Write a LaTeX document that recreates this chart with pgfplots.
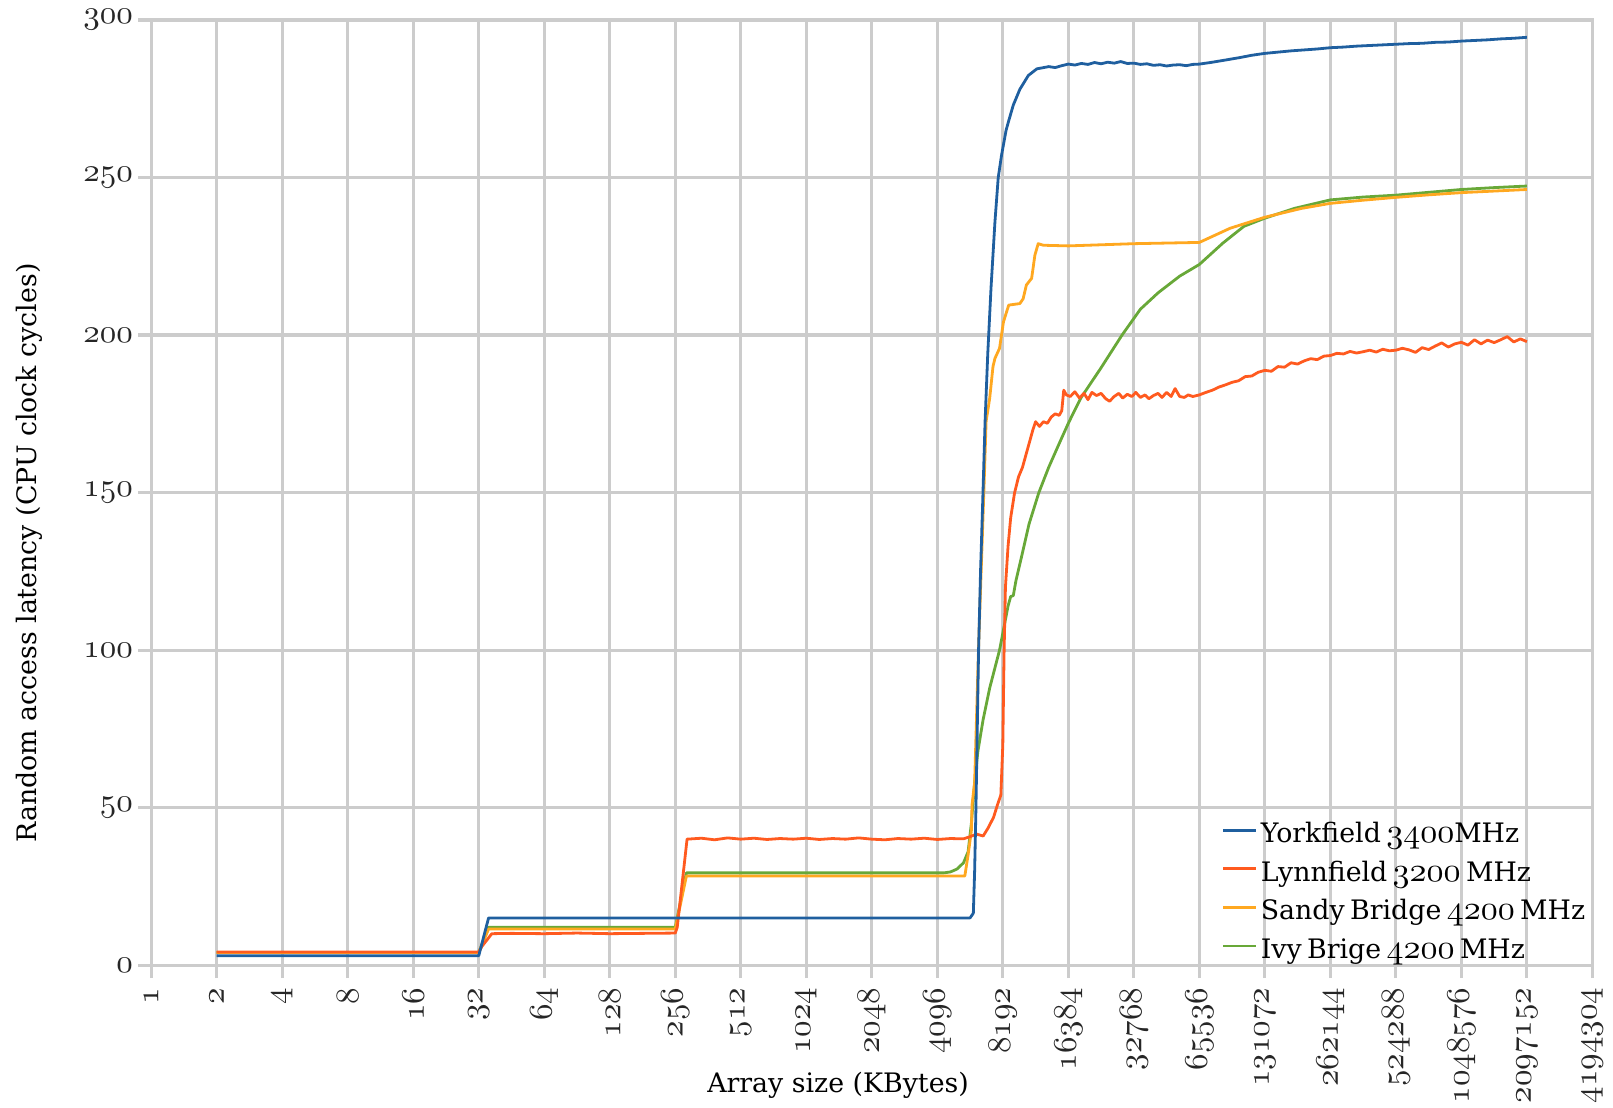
\documentclass[border=0pt]{standalone}
\usepackage{fontspec}
\setmainfont{DejaVu Serif}
\DeclareFontShape{OML}{cmm}{m}{it}{<-> cmmi10}{}
\usepackage{pgfplots}
\pgfplotsset{compat=1.18}
\usetikzlibrary{calc}
\definecolor{gridgray}{HTML}{CCCCCC}
\definecolor{cyork}{HTML}{1F5F9F}
\definecolor{clynn}{HTML}{FF5A1F}
\definecolor{csandy}{HTML}{FFA820}
\definecolor{civy}{HTML}{68A838}
\newcommand{\osf}[1]{\ensuremath{\mathnormal{#1}}}
\newcommand{\losf}[1]{{\fontsize{17}{19}\selectfont\osf{#1}}}
\newcommand{\lsp}{\hspace{2.7pt}}
\begin{document}
\begin{tikzpicture}
\begin{axis}[
  scale only axis, width=720.6pt, height=472.6pt,
  xmin=0, xmax=22, ymin=0, ymax=300,
  xtick={0,...,22},
  xticklabels={\osf{1},\osf{2},\osf{4},\osf{8},\osf{16},\osf{32},\osf{64},\osf{128},\osf{256},\osf{512},\osf{1024},\osf{2048},\osf{4096},\osf{8192},\osf{16384},\osf{32768},\osf{65536},\osf{131072},\osf{262144},\osf{524288},\osf{1048576},\osf{2097152},\osf{4194304}},
  ytick={0,50,...,300},
  yticklabels={\osf{0},\osf{50},\osf{100},\osf{150},\osf{200},\osf{250},\osf{300}},
  grid=major,
  major grid style={draw=gridgray, line width=1.6pt},
  axis line style={draw=gridgray, line width=1.6pt},
  tick align=outside, tick pos=left,
  major tick length=6.5pt,
  tick style={draw=gridgray, line width=1.6pt},
  tick label style={font=\fontsize{16.5}{19}\selectfont, text=black!85},
  xticklabel style={rotate=90, anchor=east, inner xsep=4.5pt, inner ysep=1pt},
  yticklabel style={anchor=east, inner xsep=2.5pt, inner ysep=0.5pt},
  label style={font=\fontsize{13.4}{15}\selectfont},
  xlabel={Array size (KBytes)},
  ylabel={Random access latency (CPU clock cycles)},
  x label style={at={(axis description cs:0.4766,-0.1270)}, anchor=center},
  y label style={at={(axis description cs:-0.0847,0.436)}, anchor=center, rotate=0},
  every axis plot/.append style={line width=1.4pt, no marks, line join=round},
  reverse legend,
  legend image code/.code={\draw[#1] (0pt,0pt) -- (16.3pt,0pt);},
  legend style={at={(axis description cs:0.7429,0.1633)}, anchor=north west,
    draw=none, fill=none, inner sep=0pt, outer sep=0pt, row sep=0pt,
    column sep=1.8pt,
    font=\fontsize{13.4}{15}\selectfont,
    nodes={inner sep=0pt, text height=15.95pt, text depth=3.35pt}},
  legend cell align=left,
]
\addplot[civy] coordinates {
(1,4) (5,4) (5.15,12) (8,12) (8.17,29.3) (12.1,29.3) (12.2,29.6) (12.3,30.5) (12.4,32.5) (12.47,36) (12.52,45) (12.57,58) (12.62,68) (12.7,78) (12.8,88) (12.95,100) (13.08,114) (13.12,117) (13.16,117.3) (13.2,122) (13.29,130) (13.4,140) (13.55,150) (13.7,158) (13.87,166) (14.0,172) (14.19,180) (14.49,189.3) (14.82,200) (15.1,208.2) (15.37,213.4) (15.7,218.7) (16,222.4) (16.36,229.2) (16.68,234.5) (17,237.1) (17.45,240.2) (18,242.9) (18.5,243.8) (19,244.4) (19.5,245.3) (20,246.2) (20.5,246.8) (21,247.3)
};
\addlegendentry{Ivy\lsp Brige\lsp\losf{4200}\lsp MHz}
\addplot[csandy] coordinates {
(1,4) (5,4) (5.15,11.5) (8,11.5) (8.17,28.3) (12.42,28.3) (12.47,35) (12.52,42.7) (12.53,50.9) (12.57,58) (12.63,101) (12.71,150) (12.745,172.6) (12.8,180) (12.85,190) (12.88,192.6) (12.95,195.8) (13.01,204.2) (13.09,209.5) (13.26,210) (13.31,211.5) (13.36,215.9) (13.44,218) (13.49,225.4) (13.54,229) (13.62,228.5) (14,228.3) (15,229) (16,229.4) (16.47,233.9) (17,237.4) (17.56,240.2) (18,241.8) (18.5,242.8) (19,243.7) (19.5,244.5) (20,245.2) (20.5,245.7) (21,246.2)
};
\addlegendentry{Sandy\lsp Bridge\lsp\losf{4200}\lsp MHz}
\addplot[clynn] coordinates {
(1,4.2) (5,4.2) (5.05,6) (5.2,10) (5.5,10.1) (6,10) (6.5,10.2) (7,10) (7.5,10.1) (8,10.2) (8.03,12) (8.18,40) (8.4,40.3) (8.6,39.8) (8.8,40.4) (9,40) (9.2,40.3) (9.4,39.9) (9.6,40.2) (9.8,40) (10,40.3) (10.2,39.9) (10.4,40.2) (10.6,40) (10.8,40.4) (11,40) (11.2,39.8) (11.4,40.2) (11.6,40) (11.8,40.3) (12,39.9) (12.2,40.2) (12.4,40.1) (12.5,40.8) (12.6,41.6) (12.7,41) (12.78,43.7) (12.86,47) (12.92,51) (12.97,54) (13.0,70) (13.02,100) (13.04,120) (13.08,133) (13.12,142) (13.18,150) (13.24,155) (13.3,158) (13.38,164) (13.46,170) (13.5,172.5) (13.56,171) (13.62,172.5) (13.68,172) (13.74,174) (13.8,175) (13.86,174.5) (13.9,176) (13.93,182.5) (13.97,181) (14.03,180.5) (14.1,182) (14.17,180) (14.24,181.5) (14.3,179.5) (14.36,181.8) (14.43,180.8) (14.5,181.5) (14.57,179.8) (14.63,179) (14.7,180.5) (14.77,181.5) (14.83,180) (14.9,181.2) (14.97,180.5) (15.03,181.8) (15.1,180.2) (15.17,181) (15.23,179.8) (15.3,180.8) (15.37,181.5) (15.43,180.2) (15.5,181.8) (15.57,180.5) (15.63,183) (15.7,180.5) (15.77,180.2) (15.83,181) (15.9,180.5) (16,181) (16.1,181.8) (16.2,182.5) (16.3,183.5) (16.4,184.2) (16.5,185) (16.6,185.5) (16.7,186.8) (16.8,187) (16.9,188.2) (17,188.8) (17.1,188.5) (17.2,190) (17.3,189.8) (17.4,191.2) (17.5,190.8) (17.6,191.8) (17.7,192.5) (17.8,192.2) (17.9,193.3) (18,193.5) (18.1,194.2) (18.2,194) (18.3,194.8) (18.4,194.3) (18.5,194.7) (18.6,195.2) (18.7,194.6) (18.8,195.5) (18.9,195) (19,195.2) (19.1,195.8) (19.2,195.3) (19.3,194.5) (19.4,196) (19.5,195.4) (19.6,196.5) (19.7,197.5) (19.8,196.2) (19.9,197.2) (20,197.7) (20.1,196.8) (20.2,198.5) (20.3,197.2) (20.4,198.4) (20.5,197.6) (20.6,198.5) (20.7,199.5) (20.8,197.8) (20.9,198.8) (21,197.9)
};
\addlegendentry{Lynnfield\lsp\losf{3200}\lsp MHz}
\addplot[cyork] coordinates {
(1,3) (5,3) (5.15,15) (6,15) (7,15) (8,15) (9,15) (10,15) (11,15) (12,15) (12.5,15) (12.55,16.5) (12.57,30) (12.59,50) (12.61,75) (12.63,100) (12.66,125) (12.69,145) (12.73,173) (12.77,194) (12.82,215) (12.88,236) (12.93,250) (12.98,257) (13.05,265) (13.09,268) (13.16,273) (13.26,278) (13.39,282.4) (13.52,284.5) (13.6,284.8) (13.7,285.2) (13.8,284.9) (13.9,285.5) (14,286) (14.1,285.7) (14.2,286.2) (14.3,285.9) (14.4,286.5) (14.5,286.1) (14.6,286.6) (14.7,286.3) (14.8,286.8) (14.9,286.2) (15,286.3) (15.1,285.9) (15.2,286.1) (15.3,285.6) (15.4,285.8) (15.5,285.4) (15.6,285.7) (15.7,285.8) (15.8,285.5) (15.9,285.9) (16,286) (16.2,286.6) (16.4,287.3) (16.6,288) (16.8,288.8) (17,289.4) (17.2,289.8) (17.4,290.2) (17.6,290.5) (17.8,290.8) (18,291.2) (18.2,291.4) (18.4,291.7) (18.6,291.9) (18.8,292.1) (19,292.3) (19.2,292.5) (19.4,292.6) (19.6,292.9) (19.8,293) (20,293.3) (20.2,293.5) (20.4,293.7) (20.6,294) (20.8,294.2) (21,294.5)
};
\addlegendentry{Yorkfield\lsp\losf{3400}MHz}
\end{axis}
\pgfresetboundingbox
\path[use as bounding box] ($(current axis.south west)+(-75.6pt,-71pt)$) rectangle ($(current axis.north east)+(10.3pt,10pt)$);
\end{tikzpicture}
\end{document}
